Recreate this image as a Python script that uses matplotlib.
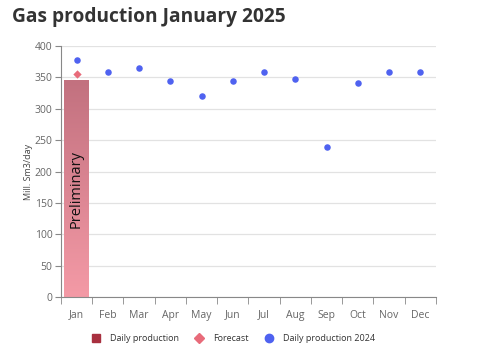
import numpy as np
import matplotlib.pyplot as plt
from matplotlib.lines import Line2D
from matplotlib.colors import LinearSegmentedColormap

plt.rcParams['font.family'] = ['Open Sans', 'DejaVu Sans']

months = ['Jan', 'Feb', 'Mar', 'Apr', 'May', 'Jun', 'Jul', 'Aug', 'Sep', 'Oct', 'Nov', 'Dec']
daily_production = [345]          # January 2025, preliminary
forecast = [355]                  # January 2025
daily_2024 = [378, 359, 365, 345, 321, 345, 359, 347, 240, 341, 359, 359]

fig = plt.figure(figsize=(4.86, 3.52), dpi=100)
ax = fig.add_axes([0.1255, 0.156, 0.7715, 0.713])

x = np.arange(len(months))
bw = 0.8

# gradient filled bar
cmap = LinearSegmentedColormap.from_list('bar', ['#f49aa6', '#c2717f'])
grad = np.linspace(0, 1, 256).reshape(-1, 1)
for i, v in enumerate(daily_production):
    ax.imshow(grad, cmap=cmap, aspect='auto', origin='lower',
              extent=(x[i] - bw / 2, x[i] + bw / 2, 0, v), zorder=2)
    ax.text(x[i], v / 2, 'Preliminary', rotation=90, ha='center', va='center',
            fontsize=10.5, color='#111111', zorder=4)

ax.scatter(x[:len(forecast)], forecast, marker='D', s=18, color='#e86b7a',
           zorder=5, linewidths=0)
ax.scatter(x, daily_2024, marker='o', s=22, color='#4f62f0', zorder=5, linewidths=0)

ax.set_xlim(-0.5, len(months) - 0.5)
ax.set_ylim(0, 400)
ax.set_yticks(np.arange(0, 401, 50))
ax.set_xticks(x)
ax.set_xticklabels(months)
ax.set_xticks(np.arange(-0.5, len(months), 1), minor=True)
ax.tick_params(axis='x', which='major', length=0, pad=9, labelsize=7.5, labelcolor='#666666')
ax.tick_params(axis='x', which='minor', length=5, color='#888888')
ax.tick_params(axis='y', length=4, color='#888888', labelsize=7.5, labelcolor='#666666', pad=2)

ax.grid(axis='y', color='#e2e2e2', linewidth=0.9)
ax.set_axisbelow(True)
for s in ['top', 'right']:
    ax.spines[s].set_visible(False)
for s in ['left', 'bottom']:
    ax.spines[s].set_color('#888888')

ax.set_ylabel('Mill. Sm3/day', fontsize=6.5, color='#444444')
ax.yaxis.set_label_coords(-0.075, 0.5)

fig.text(0.025, 0.952, 'Gas production January 2025', fontsize=13.8,
         fontweight='bold', color='#333333', ha='left', va='center')

handles = [
    Line2D([], [], marker='s', linestyle='none', color='#a8303f', markersize=6),
    Line2D([], [], marker='D', linestyle='none', color='#e86b7a', markersize=5),
    Line2D([], [], marker='o', linestyle='none', color='#4f62f0', markersize=6),
]
fig.legend(handles, ['Daily production', 'Forecast', 'Daily production 2024'],
           loc='center', bbox_to_anchor=(0.475, 0.038), ncol=3, frameon=False,
           fontsize=6.5, handletextpad=0.6, columnspacing=1.2,
           labelcolor='#333333')

fig.savefig('out.png', dpi=100)
